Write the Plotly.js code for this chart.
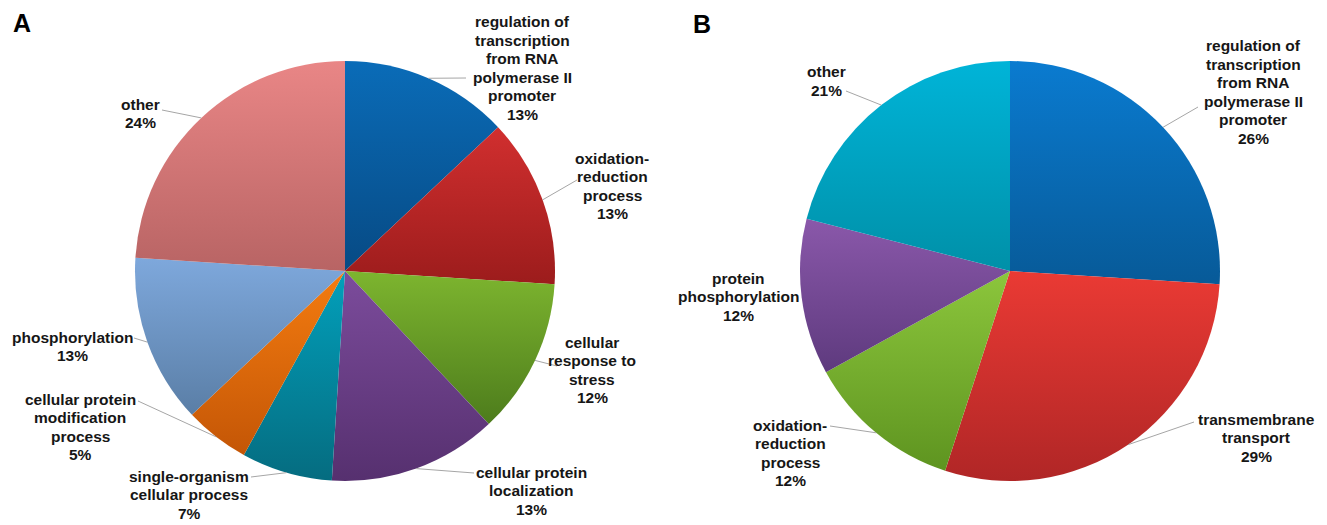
<!DOCTYPE html>
<html>
<head>
<meta charset="utf-8">
<script src="https://cdn.plot.ly/plotly-3.0.1.min.js"></script>
<style>
  html, body { margin: 0; padding: 0; background: #fff; }
  #chart { width: 1327px; height: 525px; }
</style>
</head>
<body>
<div id="chart"></div>
<script>
// ---------------- DATA ----------------
const categoriesA = [
  "regulation of transcription from RNA polymerase II promoter",
  "oxidation-reduction process",
  "cellular response to stress",
  "cellular protein localization",
  "single-organism cellular process",
  "cellular protein modification process",
  "phosphorylation",
  "other"
];
const valuesA = [13, 13, 12, 13, 7, 5, 13, 24];
const wrappedA = [
  ["regulation of", "transcription", "from RNA", "polymerase II", "promoter"],
  ["oxidation-", "reduction", "process"],
  ["cellular", "response to", "stress"],
  ["cellular protein", "localization"],
  ["single-organism", "cellular process"],
  ["cellular protein", "modification", "process"],
  ["phosphorylation"],
  ["other"]
];

const categoriesB = [
  "regulation of transcription from RNA polymerase II promoter",
  "transmembrane transport",
  "oxidation-reduction process",
  "protein phosphorylation",
  "other"
];
const valuesB = [26, 29, 12, 12, 21];
const wrappedB = [
  ["regulation of", "transcription", "from RNA", "polymerase II", "promoter"],
  ["transmembrane", "transport"],
  ["oxidation-", "reduction", "process"],
  ["protein", "phosphorylation"],
  ["other"]
];

const panelLetters = ["A", "B"];

// ---------------- STYLE / LAYOUT ----------------
const W = 1327, H = 525;
const topColorsA = ["#0a6cb8", "#d12f2f", "#7db52f", "#7c4c9c", "#02a0bb", "#f47c10", "#7ea8dc", "#e98686"];
const botColorsA = ["#074a84", "#9c1c1c", "#4d7c1c", "#56306f", "#056c80", "#c45606", "#5a7ea6", "#b86464"];
const topColorsB = ["#0a7bd0", "#ea3a34", "#8cc63c", "#8a58aa", "#00b4d8"];
const botColorsB = ["#075a98", "#b02626", "#5e9420", "#5e3a7e", "#0090a8"];

// pie geometry in pixels
const pieA = {cx: 345, cy: 271, r: 210};
const pieB = {cx: 1010, cy: 271, r: 210};

// label placement (text centre x, first line centre y) and leader end points, pixels
const labelPosA = [[522, 22], [612, 158], [592, 342], [531, 472], [189, 476], [80, 399], [72, 337], [140, 104]];
const leaderEndA = [[466, 78], [577, 180], [557, 366], [474, 473], [251, 477], [138, 401], [134, 338], [162, 110]];
const labelPosB = [[1253, 46], [1256, 419], [790, 425], [738, 278], [826, 72]];
const leaderEndB = [[1198, 107], [1194, 422], [830, 426], null, [846, 91]];
const lineStep = 18.5;
const fontFam = "Liberation Sans, Arial, Helvetica, sans-serif";

function px(x) { return x / W; }
function py(y) { return 1 - y / H; }

function pieTrace(cats, vals, topCols, geom) {
  return {
    type: "pie",
    labels: cats,
    values: vals,
    sort: false,
    direction: "clockwise",
    rotation: 0,
    textinfo: "none",
    hoverinfo: "label+percent",
    marker: { colors: topCols, line: { width: 0 } },
    domain: {
      x: [px(geom.cx - geom.r), px(geom.cx + geom.r)],
      y: [py(geom.cy + geom.r), py(geom.cy - geom.r)]
    },
    showlegend: false
  };
}

const annotations = [];
const shapes = [];

function addLabels(wrapped, vals, pos, ends, geom) {
  const total = vals.reduce((a, b) => a + b, 0);
  let cum = 0;
  wrapped.forEach((lines, i) => {
    const all = lines.concat([vals[i] + "%"]);
    all.forEach((t, k) => {
      annotations.push({
        xref: "paper", yref: "paper",
        x: px(pos[i][0]), y: py(pos[i][1] + k * lineStep),
        xanchor: "center", yanchor: "middle",
        text: "<b>" + t + "</b>",
        showarrow: false,
        font: { family: fontFam, size: 15.5, color: "#161616" }
      });
    });
    const mid = (cum + vals[i] / 2) / total * 2 * Math.PI;
    cum += vals[i];
    if (ends[i]) {
      const ex = geom.cx + geom.r * Math.sin(mid);
      const ey = geom.cy - geom.r * Math.cos(mid);
      shapes.push({
        type: "line", xref: "paper", yref: "paper",
        x0: px(ex), y0: py(ey), x1: px(ends[i][0]), y1: py(ends[i][1]),
        line: { color: "#a6a6a6", width: 1 }
      });
    }
  });
}

addLabels(wrappedA, valuesA, labelPosA, leaderEndA, pieA);
addLabels(wrappedB, valuesB, labelPosB, leaderEndB, pieB);

annotations.push({
  xref: "paper", yref: "paper", x: px(22), y: py(23), xanchor: "center", yanchor: "middle",
  text: "<b>" + panelLetters[0] + "</b>", showarrow: false,
  font: { family: fontFam, size: 25, color: "#000" }
});
annotations.push({
  xref: "paper", yref: "paper", x: px(702), y: py(24), xanchor: "center", yanchor: "middle",
  text: "<b>" + panelLetters[1] + "</b>", showarrow: false,
  font: { family: fontFam, size: 25, color: "#000" }
});

const data = [
  pieTrace(categoriesA, valuesA, topColorsA, pieA),
  pieTrace(categoriesB, valuesB, topColorsB, pieB)
];

const layout = {
  width: W, height: H,
  margin: { l: 0, r: 0, t: 0, b: 0 },
  paper_bgcolor: "#ffffff",
  plot_bgcolor: "#ffffff",
  showlegend: false,
  annotations: annotations,
  shapes: shapes
};

Plotly.newPlot("chart", data, layout, { displayModeBar: false, staticPlot: true }).then(function () {
  // vertical gradient shading inside each slice
  const svg = document.querySelector("#chart svg.main-svg");
  const NS = "http://www.w3.org/2000/svg";
  let defs = svg.querySelector("defs");
  if (!defs) { defs = document.createElementNS(NS, "defs"); svg.insertBefore(defs, svg.firstChild); }
  const traces = document.querySelectorAll("#chart .pielayer .trace");
  const tops = [topColorsA, topColorsB], bots = [botColorsA, botColorsB];
  traces.forEach(function (tr, ti) {
    const paths = tr.querySelectorAll("g.slice path.surface");
    paths.forEach(function (p, i) {
      const id = "grad_" + ti + "_" + i;
      const g = document.createElementNS(NS, "linearGradient");
      g.setAttribute("id", id);
      g.setAttribute("x1", "0"); g.setAttribute("y1", "0");
      g.setAttribute("x2", "0"); g.setAttribute("y2", "1");
      const s1 = document.createElementNS(NS, "stop");
      s1.setAttribute("offset", "0"); s1.setAttribute("stop-color", tops[ti][i]);
      const s2 = document.createElementNS(NS, "stop");
      s2.setAttribute("offset", "1"); s2.setAttribute("stop-color", bots[ti][i]);
      g.appendChild(s1); g.appendChild(s2);
      defs.appendChild(g);
      p.style.fill = "url(#" + id + ")";
    });
  });
});
</script>
</body>
</html>
